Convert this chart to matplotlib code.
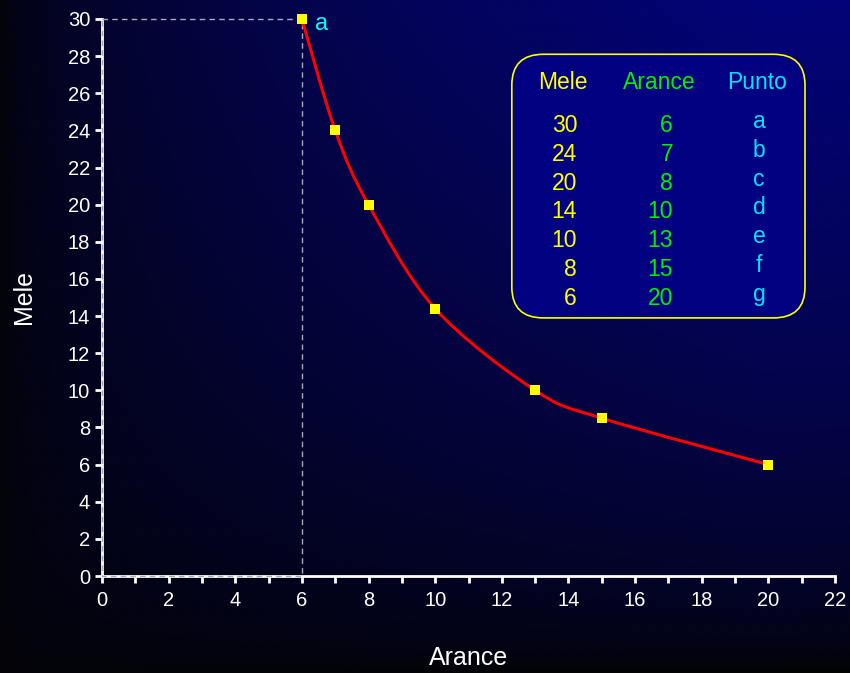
import numpy as np
import matplotlib.pyplot as plt
from matplotlib.path import Path
from matplotlib.patches import PathPatch, FancyBboxPatch

plt.rcParams["font.family"] = ["Liberation Sans", "DejaVu Sans"]

# data
arance = [6, 7, 8, 10, 13, 15, 20]
mele_plot = [30, 24, 20, 14.4, 10, 8.5, 6]
mele_table = ["30", "24", "20", "14", "10", "8", "6"]
arance_table = ["6", "7", "8", "10", "13", "15", "20"]
punti = ["a", "b", "c", "d", "e", "f", "g"]

W, H, DPI = 850, 673, 100
fig = plt.figure(figsize=(W / DPI, H / DPI), dpi=DPI)

# background gradient: navy top-right fading to black
bg = fig.add_axes([0, 0, 1, 1], zorder=-10)
sx = np.linspace(0, 1, 400)[None, :]
sy = np.linspace(1, 0, 320)[:, None]
blue = 120 * np.clip(sx / 0.9, 0, 1) ** 0.55 * sy ** 0.55
img = np.zeros((320, 400, 3))
img[..., 0] = 3
img[..., 1] = 3
img[..., 2] = blue + 8 * (1 - sx)
img = np.clip(img / 255, 0, 1)
bg.imshow(img, aspect="auto", extent=[0, 1, 0, 1], interpolation="bilinear")
bg.axis("off")

ax = fig.add_axes([102 / W, 1 - 576 / H, (835 - 102) / W, (576 - 19) / H])
ax.set_facecolor("none")
ax.set_xlim(0, 22)
ax.set_ylim(0, 30)

# dashed rectangle to point a
ax.plot([0, 6, 6, 0, 0], [30, 30, 0, 0, 30], ls=(0, (4, 3)), lw=1,
        color="#a8a8b8", zorder=2, clip_on=False)

# smoothed curve (bezier segments through the points)
P = np.column_stack([arance, mele_plot]).astype(float)
Pe = np.vstack([P[0], P, P[-1]])
verts = [P[0]]
codes = [Path.MOVETO]
for i in range(len(P) - 1):
    c1 = Pe[i + 1] + (Pe[i + 2] - Pe[i]) / 6
    c2 = Pe[i + 2] - (Pe[i + 3] - Pe[i + 1]) / 6
    verts += [c1, c2, Pe[i + 2]]
    codes += [Path.CURVE4] * 3
ax.add_patch(PathPatch(Path(verts, codes), fill=False, edgecolor="#ff0000",
                       lw=2.2, zorder=3))
ax.plot(arance, mele_plot, ls="none", marker="s", ms=6.5, mfc="#ffff00",
        mec="#ffff00", mew=0, zorder=4, clip_on=False)

ax.text(6.4, 29.75, "a", color="#00ffff", fontsize=17, va="center", ha="left")

# axes styling
for s in ["top", "right"]:
    ax.spines[s].set_visible(False)
for s in ["left", "bottom"]:
    ax.spines[s].set_color("white")
    ax.spines[s].set_linewidth(2)
    ax.spines[s].set_zorder(1)
ax.set_xticks(range(0, 23, 2))
ax.set_xticks(range(0, 23, 1), minor=True)
ax.set_yticks(range(0, 31, 2))
ax.tick_params(which="both", colors="white", width=2, length=5,
               direction="out", labelsize=14.5)
ax.tick_params(axis="x", pad=6)
ax.set_xlabel("Arance", color="white", fontsize=18, labelpad=26)
ax.set_ylabel("Mele", color="white", fontsize=18, labelpad=23)

# table box
box = FancyBboxPatch((12.3, 13.9), 21.1 - 12.3, 28.1 - 13.9,
                     boxstyle="round,pad=0,rounding_size=0.95",
                     mutation_aspect=1.75, facecolor="#000080",
                     edgecolor="#ffff00", lw=1.2, zorder=5)
ax.add_patch(box)

hy = 26.6
ax.text(13.84, hy, "Mele", color="#ffff00", fontsize=16.5, ha="center",
        va="center", zorder=6)
ax.text(16.72, hy, "Arance", color="#00ee00", fontsize=16.5, ha="center",
        va="center", zorder=6)
ax.text(19.66, hy, "Punto", color="#00e5ff", fontsize=16.5, ha="center",
        va="center", zorder=6)

row_step = 28.8 / 18.57
base0 = (576 - 132) / 18.57
for i in range(len(punti)):
    yb = base0 - i * row_step
    ax.text(14.26, yb, mele_table[i], color="#ffff00", fontsize=16.5,
            ha="right", va="baseline", zorder=6)
    ax.text(17.14, yb, arance_table[i], color="#00ee00", fontsize=16.5,
            ha="right", va="baseline", zorder=6)
    ax.text(19.72, yb + 4 / 18.57, punti[i], color="#00e5ff", fontsize=16.5,
            ha="center", va="baseline", zorder=6)

fig.savefig("out.png", dpi=DPI, facecolor="black")
